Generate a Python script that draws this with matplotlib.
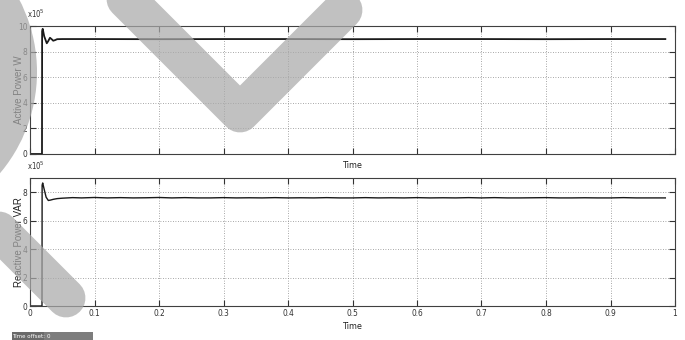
import matplotlib
matplotlib.use("Agg")
import matplotlib.pyplot as plt
from matplotlib import font_manager
from matplotlib.font_manager import FontProperties
from matplotlib.patches import Circle, Rectangle

# ---------------- data ----------------
time_ticks = [0, 0.1, 0.2, 0.3, 0.4, 0.5, 0.6, 0.7, 0.8, 0.9, 1]
time_tick_labels = ["0", "0.1", "0.2", "0.3", "0.4", "0.5", "0.6", "0.7", "0.8", "0.9", "1"]

active_ticks = [0, 2, 4, 6, 8, 10]
reactive_ticks = [0, 2, 4, 6, 8]

# Active power (x 1e5 W)
active_t = [0, 0.0186, 0.0188, 0.0197, 0.022, 0.026, 0.028, 0.031, 0.034, 0.036,
            0.039, 0.042, 0.05, 0.1, 0.2, 0.3, 0.4, 0.5, 0.6, 0.7, 0.8, 0.9, 0.985]
active_p = [0, 0, 9.6, 9.78, 9.2, 8.65, 8.8, 9.08, 8.95, 8.85,
            8.9, 8.97, 8.98, 8.98, 8.97, 8.98, 8.98, 8.97, 8.98, 8.98, 8.97, 8.98, 8.98]

# Reactive power (x 1e5 VAR)
reactive_t = [0, 0.0186, 0.0188, 0.0197, 0.022, 0.025, 0.0284, 0.032, 0.036, 0.042,
              0.05, 0.058, 0.066, 0.08, 0.1, 0.12, 0.14, 0.16, 0.18, 0.2,
              0.22, 0.24, 0.26, 0.28, 0.3, 0.32, 0.34, 0.36, 0.38, 0.4,
              0.42, 0.44, 0.46, 0.48, 0.5, 0.52, 0.54, 0.56, 0.58, 0.6,
              0.62, 0.64, 0.66, 0.68, 0.7, 0.72, 0.74, 0.76, 0.78, 0.8,
              0.82, 0.84, 0.86, 0.88, 0.9, 0.92, 0.94, 0.96, 0.985]
reactive_q = [0, 0, 8.5, 8.65, 8.2, 7.65, 7.42, 7.45, 7.5, 7.55,
              7.58, 7.6, 7.62, 7.6, 7.63, 7.6, 7.62, 7.6, 7.61, 7.63,
              7.6, 7.62, 7.6, 7.6, 7.62, 7.6, 7.61, 7.6, 7.62, 7.6,
              7.61, 7.6, 7.62, 7.6, 7.6, 7.62, 7.6, 7.61, 7.6, 7.62,
              7.6, 7.61, 7.6, 7.62, 7.6, 7.62, 7.6, 7.6, 7.61, 7.62,
              7.6, 7.6, 7.61, 7.6, 7.6, 7.62, 7.6, 7.6, 7.6]

# ---------------- fonts ----------------
def narrow_props(size):
    for fam in ["Liberation Sans Narrow", "DejaVu Sans"]:
        fp = FontProperties(family=fam, stretch="condensed", size=size)
        try:
            font_manager.findfont(fp, fallback_to_default=False)
            return fp
        except Exception:
            pass
    return FontProperties(family="DejaVu Sans", size=size)

sans = "Liberation Sans"
try:
    font_manager.findfont(sans, fallback_to_default=False)
except Exception:
    sans = "DejaVu Sans"

W, H = 685, 340
fig = plt.figure(figsize=(W / 100, H / 100), dpi=100)
fig.patch.set_facecolor("white")


def frac(x0, y0, x1, y1):
    return [x0 / W, 1 - y1 / H, (x1 - x0) / W, (y1 - y0) / H]


def style(ax, yticks, ylim, ylabel, xlabels):
    tick_fp = narrow_props(6)
    ax.set_xlim(0, 1)
    ax.set_ylim(*ylim)
    ax.set_xticks(time_ticks)
    ax.set_yticks(yticks)
    ax.set_yticklabels([str(v) for v in yticks], fontproperties=tick_fp)
    if xlabels:
        ax.set_xticklabels(time_tick_labels, fontproperties=tick_fp)
    else:
        ax.set_xticklabels([])
    ax.tick_params(direction="in", length=4, width=0.8, top=True, right=True,
                   colors="#333333", pad=2)
    ax.grid(True, linestyle=(0, (1, 2)), color="#8a8a8a", linewidth=0.6)
    for s in ax.spines.values():
        s.set_color("#404040")
        s.set_linewidth(0.8)
    ax.set_ylabel(ylabel, fontfamily=sans, fontsize=7, color="#222222", va="center")
    ax.yaxis.set_label_coords(-11 / 645, 0.5)
    ax.set_xlabel("Time", fontproperties=narrow_props(6.5), labelpad=3, color="#222222")
    ax.annotate(r"x10$^{5}$", xy=(0, 1), xycoords="axes fraction",
                xytext=(-2, 4), textcoords="offset points",
                fontproperties=narrow_props(5.5), ha="left", va="bottom",
                color="#333333")


ax1 = fig.add_axes(frac(30, 26, 675, 154))
ax1.plot(active_t, active_p, color="#1a1a1a", linewidth=1.3)
style(ax1, active_ticks, (0, 10), "Active Power W", False)

ax2 = fig.add_axes(frac(30, 178, 675, 306))
ax2.plot(reactive_t, reactive_q, color="#1a1a1a", linewidth=1.0)
style(ax2, reactive_ticks, (0, 9), "Reactive Power VAR", True)

# "Time offset" status bar
fig.patches.append(Rectangle((12 / W, 0), 81 / W, 8.5 / H, transform=fig.transFigure,
                             facecolor="#7d7d7d", edgecolor="none", zorder=5))
fig.patches.append(Rectangle((12 / W, 0), 32 / W, 8.5 / H, transform=fig.transFigure,
                             facecolor="#6a6a6a", edgecolor="none", zorder=5))
fig.text(12.5 / W, 4 / H, "Time offset:", fontproperties=narrow_props(4.4), color="white",
         va="center", ha="left", zorder=6)
fig.text(47 / W, 4 / H, "0", fontproperties=narrow_props(4.4), color="white",
         va="center", ha="left", zorder=6)

# watermark overlay (pixel coordinates)
ov = fig.add_axes([0, 0, 1, 1], zorder=10)
ov.set_xlim(0, W)
ov.set_ylim(H, 0)
ov.axis("off")
ov.patch.set_alpha(0)
wm = "#a9a9a9"
ov.plot([5, 240, 343], [-122, 113, 10], color=wm, alpha=0.72, linewidth=28,
        solid_capstyle="round", solid_joinstyle="round")
ov.plot([-40, 66], [192, 298], color=wm, alpha=0.72, linewidth=28,
        solid_capstyle="round")
ov.add_patch(Circle((-120, 72), 157, facecolor=wm, edgecolor="none", alpha=0.72))

fig.savefig("out.png", dpi=100)
